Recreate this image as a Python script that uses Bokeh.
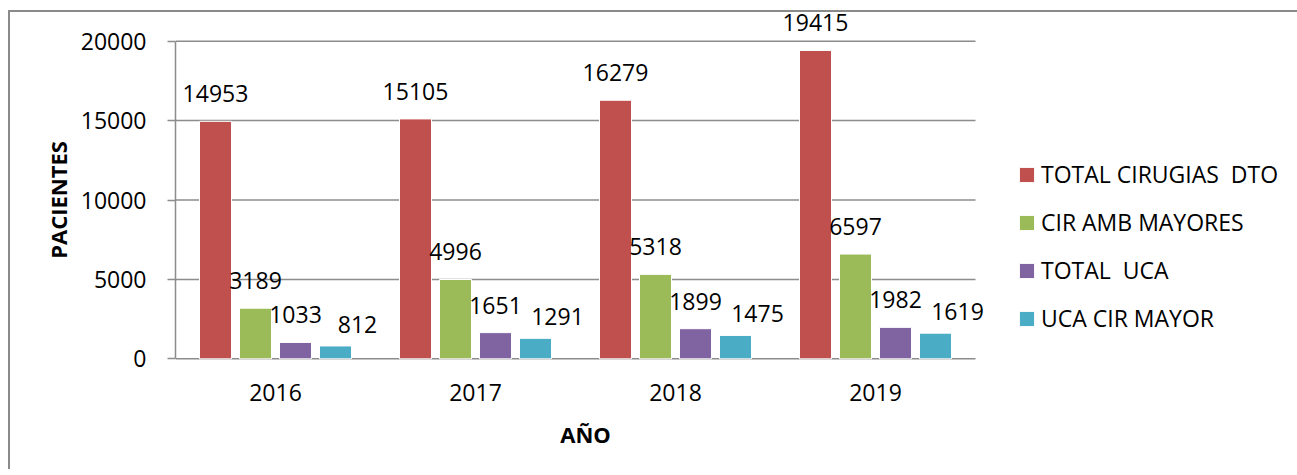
from bokeh.plotting import figure
from bokeh.models import (ColumnDataSource, Range1d, FixedTicker,
                          Legend, LegendItem, LabelSet)
from bokeh.core.properties import value
from bokeh.transform import dodge
from bokeh.embed import file_html
from bokeh.resources import INLINE

years = ["2016", "2017", "2018", "2019"]
series_names = ["TOTAL CIRUGIAS  DTO", "CIR AMB MAYORES", "TOTAL  UCA", "UCA CIR MAYOR"]
total_cirugias_dto = [14953, 15105, 16279, 19415]
cir_amb_mayores = [3189, 4996, 5318, 6597]
total_uca = [1033, 1651, 1899, 1982]
uca_cir_mayor = [812, 1291, 1475, 1619]
y_ticks = [0, 5000, 10000, 15000, 20000]

colors = ["#C0504D", "#9BBB59", "#8064A2", "#4BACC6"]
offsets = [-0.3, -0.1, 0.1, 0.3]
label_x_off = [0, 0, 0, 22]
label_y_off = [19, 19, 19, 13]
FONT = "Open Sans"
GRID = "#8c8c8c"

idx = list(range(len(years)))
source = ColumnDataSource(data=dict(
    idx=idx,
    s0=total_cirugias_dto, s1=cir_amb_mayores, s2=total_uca, s3=uca_cir_mayor,
    t0=[str(v) for v in total_cirugias_dto], t1=[str(v) for v in cir_amb_mayores],
    t2=[str(v) for v in total_uca], t3=[str(v) for v in uca_cir_mayor],
))

p = figure(x_range=Range1d(-0.5, len(years) - 0.4),
           y_range=Range1d(-1930, 21930),
           frame_width=820, frame_height=379,
           min_border_left=175, min_border_right=295,
           min_border_top=10, min_border_bottom=80,
           output_backend="svg", toolbar_location=None, tools="")
p.styles = {
    "background-image": "linear-gradient(#8a8a8a, #8a8a8a), linear-gradient(#8a8a8a, #8a8a8a)",
    "background-position": "8px 10px, 8px 10px",
    "background-size": "2px 100%, 100% 2px",
    "background-repeat": "no-repeat",
}
p.outline_line_color = None
p.background_fill_alpha = 0
p.border_fill_alpha = 0

# horizontal gridlines (incl. the zero/category axis line), limited to the categories
p.segment(x0=-0.5, x1=len(years) - 0.5, y0=y_ticks, y1=y_ticks,
          line_color=GRID, line_width=1.5)

items = []
for i in range(4):
    r = p.vbar(x=dodge("idx", offsets[i]), top="s%d" % i,
               width=0.16, source=source, fill_color=colors[i],
               line_color="white", line_width=1)
    items.append(LegendItem(label=series_names[i], renderers=[r]))
    lbl = LabelSet(x=dodge("idx", offsets[i]), y="s%d" % i,
                   text="t%d" % i, source=source, text_align="center",
                   text_baseline="alphabetic", x_offset=label_x_off[i],
                   y_offset=label_y_off[i], text_font=value(FONT),
                   text_font_size="23px", text_color="black")
    p.add_layout(lbl)

legend = Legend(items=items, location=(22, 55), glyph_width=19, glyph_height=19,
                label_standoff=5, spacing=16, padding=0, margin=0,
                border_line_color=None, background_fill_alpha=0,
                label_text_font=FONT, label_text_font_size="23px",
                label_text_color="black")
p.add_layout(legend, "right")

p.xgrid.grid_line_color = None
p.ygrid.grid_line_color = None

ya = p.yaxis[0]
ya.ticker = FixedTicker(ticks=y_ticks)
ya.bounds = (y_ticks[0], y_ticks[-1])
ya.axis_line_color = GRID
ya.axis_line_width = 1.5
ya.major_tick_line_color = GRID
ya.major_tick_line_width = 1.5
ya.major_tick_out = 8
ya.major_tick_in = 0
ya.minor_tick_line_color = None
ya.major_label_text_font = FONT
ya.major_label_text_font_size = "23px"
ya.major_label_text_color = "black"
ya.major_label_standoff = 21
ya.axis_label = "PACIENTES"
ya.axis_label_text_font = FONT
ya.axis_label_text_font_size = "22px"
ya.axis_label_text_font_style = "bold"
ya.axis_label_text_color = "black"
ya.axis_label_standoff = 5

xa = p.xaxis[0]
xa.ticker = FixedTicker(ticks=idx)
xa.major_label_overrides = {i: y for i, y in zip(idx, years)}
xa.axis_line_color = None
xa.major_tick_line_color = None
xa.minor_tick_line_color = None
xa.major_tick_out = 0
xa.major_tick_in = 0
xa.major_label_text_font = FONT
xa.major_label_text_font_size = "23px"
xa.major_label_text_color = "black"
xa.major_label_standoff = -6
xa.axis_label = "AÑO"
xa.axis_label_text_font = FONT
xa.axis_label_text_font_size = "22px"
xa.axis_label_text_font_style = "bold"
xa.axis_label_text_color = "black"
xa.axis_label_standoff = 15

open("out.html", "w").write(file_html(p, INLINE))
